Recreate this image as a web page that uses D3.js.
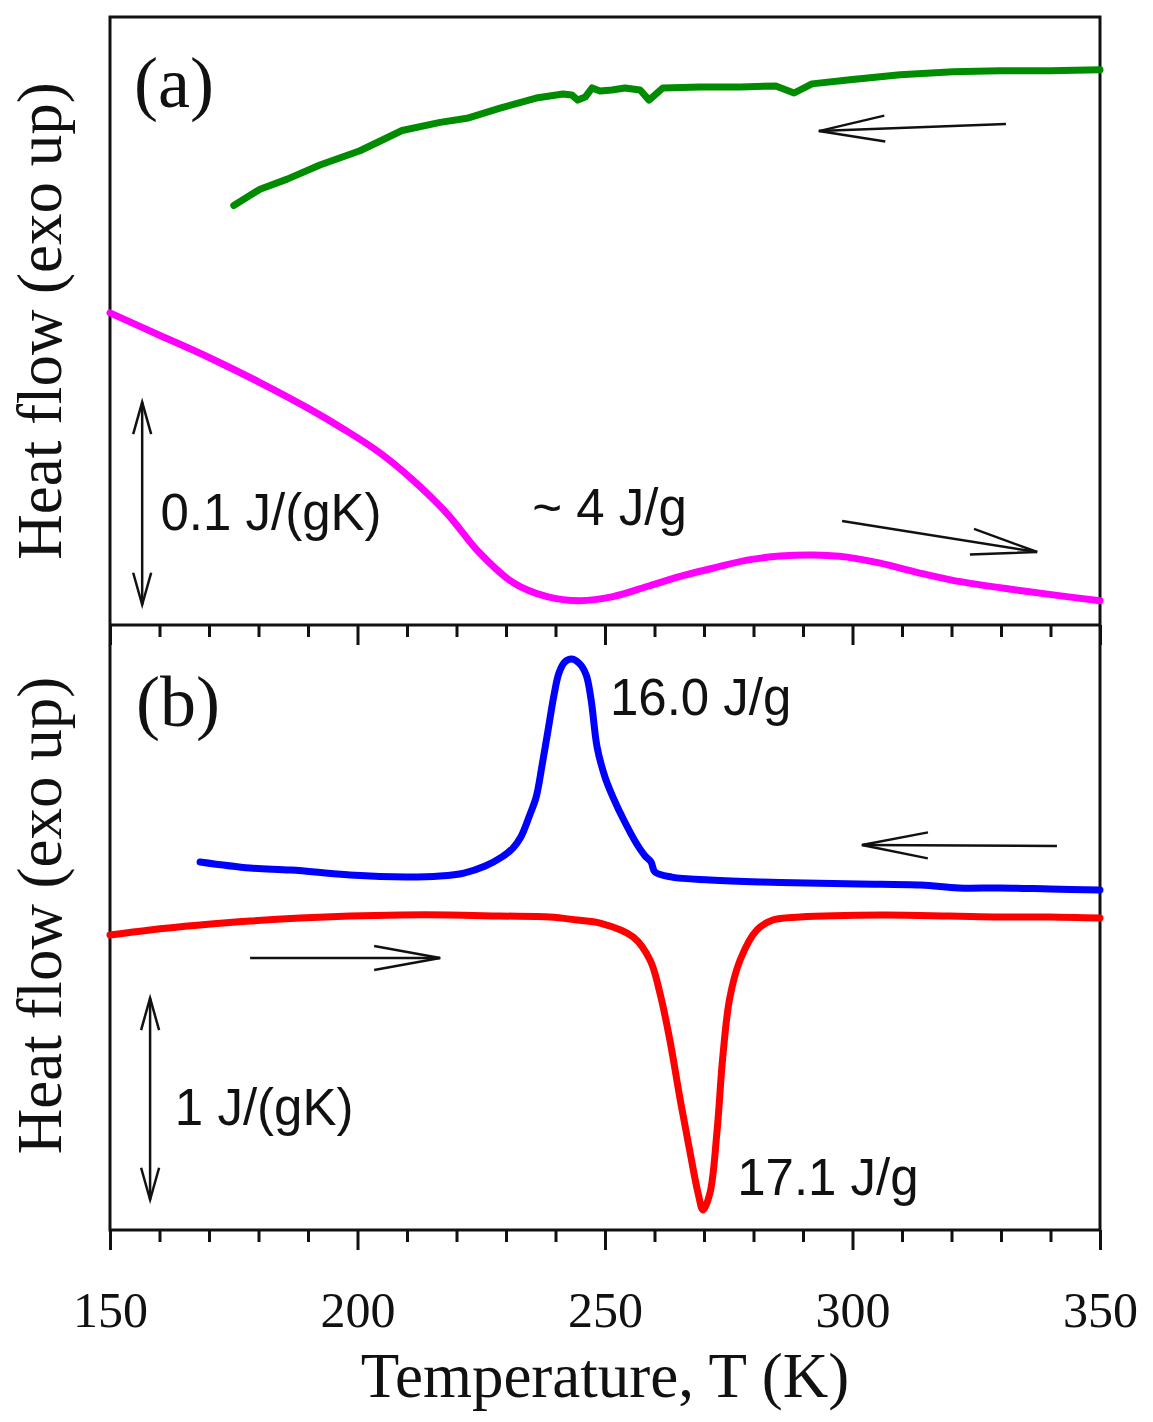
<html>
<head>
<meta charset="utf-8">
<script src="https://d3js.org/d3.v7.min.js"></script>
<style>
body { margin: 0; background: white; }
.serif { font-family: "Liberation Serif", "Times New Roman", serif; fill: #111; }
.sans { font-family: "Liberation Sans", Arial, sans-serif; fill: #111; }
</style>
</head>
<body>
<div id="chart"></div>
<script>

// temperature ticks (K)
var majorTicks = [150, 200, 250, 300, 350];
var minorTicks = [160, 170, 180, 190, 210, 220, 230, 240, 260, 270, 280, 290, 310, 320, 330, 340];

// panel (a) cooling, green  (T in K, heat flow offset in J/(gK))
var coolA_T  = [175, 180.3, 185.8, 192.4, 200.5, 209, 216.7, 222.1, 228.8, 236.1, 241.5, 243.3, 244.5, 246, 247.4, 249, 251.4, 254, 257.1, 258.9, 261.7, 269.2, 277.3, 284.5, 288.2, 291.8, 299.5, 309.6, 320.3, 329.8, 339.9, 350];
var coolA_hf = [0.207, 0.215, 0.220, 0.227, 0.234, 0.244, 0.248, 0.250, 0.255, 0.260, 0.262, 0.2615, 0.259, 0.2605, 0.265, 0.2635, 0.264, 0.265, 0.264, 0.259, 0.265, 0.2655, 0.2655, 0.266, 0.2625, 0.267, 0.269, 0.2715, 0.273, 0.2735, 0.2735, 0.274];

// panel (a) heating, magenta
var heatA_T  = [150, 160, 170, 180, 190, 197.3, 204.5, 211.2, 218.1, 224.7, 231.4, 238.3, 244.9, 251.6, 258.5, 265.2, 271.8, 278.7, 285.4, 292, 298.9, 305.6, 313, 320.3, 331, 341.7, 350];
var heatA_hf = [0.154, 0.143, 0.132, 0.120, 0.107, 0.0965, 0.085, 0.0715, 0.055, 0.0355, 0.021, 0.014, 0.012, 0.014, 0.019, 0.024, 0.028, 0.032, 0.034, 0.0345, 0.0335, 0.0305, 0.026, 0.022, 0.018, 0.0145, 0.012];

// panel (b) cooling, blue
var coolB_T  = [168.2, 178.3, 186.6, 198.5, 209.8, 216.7, 221.5, 225.8, 229.2, 231.4, 233, 234.8, 236.1, 237.3, 238.5, 239.7, 240.7, 241.9, 243.3, 244.9, 246.2, 247.2, 248.4, 250, 251.6, 254, 256.3, 258.1, 259.3, 260.1, 263.5, 271.2, 281.3, 290.6, 301.5, 313.8, 321.5, 329.8, 339.9, 350];
var coolB_hf = [1.825, 1.795, 1.785, 1.760, 1.750, 1.755, 1.770, 1.805, 1.850, 1.894, 1.949, 2.058, 2.147, 2.306, 2.479, 2.653, 2.762, 2.817, 2.831, 2.807, 2.752, 2.628, 2.395, 2.246, 2.147, 2.023, 1.919, 1.855, 1.825, 1.775, 1.750, 1.736, 1.726, 1.721, 1.716, 1.711, 1.696, 1.696, 1.691, 1.686];

// panel (b) heating, red
var heatB_T  = [150, 158.1, 168.2, 178.3, 188.4, 198.5, 208.6, 218.7, 228.8, 238.9, 244.3, 249, 255.7, 259.1, 261.1, 263.1, 265.2, 267.2, 268.8, 269.8, 271.2, 272.6, 273.8, 275.2, 277.3, 280.7, 283.9, 289.4, 306.2, 319.7, 329.8, 339.9, 350];
var heatB_hf = [1.463, 1.488, 1.512, 1.532, 1.547, 1.557, 1.562, 1.562, 1.557, 1.552, 1.537, 1.522, 1.453, 1.339, 1.175, 0.942, 0.645, 0.382, 0.183, 0.099, 0.183, 0.481, 0.860, 1.150, 1.339, 1.488, 1.537, 1.552, 1.562, 1.557, 1.552, 1.552, 1.547];

var W = 1153, H = 1422;
var left = 110, right = 1100;
var topA = 17, mid = 625, bottom = 1230;

var svg = d3.select("#chart")
  .append("svg")
    .attr("width", W)
    .attr("height", H);

var x = d3.scaleLinear()
  .domain([150, 350])
  .range([left, right]);

var yA = d3.scaleLinear()
  .domain([0, 0.3])
  .range([mid, topA]);

var yB = d3.scaleLinear()
  .domain([0, 3])
  .range([bottom, mid]);

// ticks on the divider and on the bottom axis, both pointing down
function ticks(ypos, labels) {
  var gMin = svg.append("g")
    .attr("transform", "translate(0," + ypos + ")")
    .call(d3.axisBottom(x).tickValues(minorTicks).tickSize(12).tickFormat(""));
  var gMaj = svg.append("g")
    .attr("transform", "translate(0," + ypos + ")")
    .call(d3.axisBottom(x).tickValues(majorTicks).tickSize(20).tickPadding(41)
      .tickFormat(labels ? d3.format("d") : ""));
  [gMin, gMaj].forEach(function(g) {
    g.select(".domain").remove();
    g.selectAll(".tick line").attr("stroke", "#111").attr("stroke-width", 3);
  });
  gMaj.selectAll(".tick text")
    .attr("class", "serif")
    .style("font-size", "50px")
    .attr("fill", "#111");
}
ticks(mid, false);
ticks(bottom, true);

// frame
svg.append("rect")
  .attr("x", left).attr("y", topA)
  .attr("width", right - left).attr("height", bottom - topA)
  .attr("fill", "none").attr("stroke", "#111").attr("stroke-width", 3);
svg.append("line")
  .attr("x1", left).attr("x2", right)
  .attr("y1", mid).attr("y2", mid)
  .attr("stroke", "#111").attr("stroke-width", 3);

// curves
function curve(ts, vs, yScale, color, shape) {
  var pts = ts.map(function(t, i) { return [t, vs[i]]; });
  var line = d3.line()
    .x(function(d) { return x(d[0]); })
    .y(function(d) { return yScale(d[1]); })
    .curve(shape);
  svg.append("path")
    .datum(pts)
    .attr("d", line)
    .attr("fill", "none")
    .attr("stroke", color)
    .attr("stroke-width", 7)
    .attr("stroke-linecap", "round")
    .attr("stroke-linejoin", "round");
}
curve(coolA_T, coolA_hf, yA, "#008c00", d3.curveLinear);
curve(heatA_T, heatA_hf, yA, "#ff00ff", d3.curveCatmullRom);
curve(coolB_T, coolB_hf, yB, "#0000ff", d3.curveCatmullRom);
curve(heatB_T, heatB_hf, yB, "#ff0000", d3.curveCatmullRom);

// open-headed arrows
function arrow(x1, y1, x2, y2, len, half, both) {
  var g = svg.append("g").attr("stroke", "#111").attr("stroke-width", 2.5).attr("fill", "none");
  g.append("line").attr("x1", x1).attr("y1", y1).attr("x2", x2).attr("y2", y2);
  function head(tx, ty, fx, fy) {
    var dx = tx - fx, dy = ty - fy, L = Math.sqrt(dx*dx + dy*dy);
    var ux = dx / L, uy = dy / L;
    var bx = tx - ux * len, by = ty - uy * len;
    g.append("polyline")
      .attr("points", [[bx - uy*half, by + ux*half], [tx, ty], [bx + uy*half, by - ux*half]].join(" "));
  }
  head(x2, y2, x1, y1);
  if (both) head(x1, y1, x2, y2);
}
arrow(x(331), yA(0.2472), x(293.2), yA(0.2437), 66, 13, false);
arrow(x(297.9), yA(0.0513), x(337.3), yA(0.036), 66, 13, false);
arrow(x(156.5), yA(0.01), x(156.5), yA(0.11), 32, 9, true);
arrow(x(341.3), yB(1.904), x(301.9), yB(1.909), 66, 13, false);
arrow(x(178.3), yB(1.349), x(216.7), yB(1.349), 66, 12, false);
arrow(x(158.1), yB(0.15), x(158.1), yB(1.15), 32, 9, true);

// panel letters
svg.append("text").attr("class", "serif")
  .attr("x", 134).attr("y", 107)
  .style("font-size", "72px")
  .text("(a)");
svg.append("text").attr("class", "serif")
  .attr("x", 136).attr("y", 726)
  .style("font-size", "72px")
  .text("(b)");

// annotations
function note(t, v, yScale, str) {
  svg.append("text").attr("class", "sans")
    .attr("x", x(t)).attr("y", yScale(v))
    .style("font-size", "51px")
    .text(str);
}
note(160.2, (mid - 530) / 2026.7, yA, "0.1 J/(gK)");
note(235.3, (mid - 525) / 2026.7, yA, "~ 4 J/g");
note(251, (bottom - 715) / 201.67, yB, "16.0 J/g");
note(276.7, (bottom - 1195) / 201.67, yB, "17.1 J/g");
note(163.1, (bottom - 1125) / 201.67, yB, "1 J/(gK)");

// axis titles
svg.append("text").attr("class", "serif")
  .attr("transform", "translate(61," + (topA + mid) / 2 + ") rotate(-90)")
  .attr("text-anchor", "middle")
  .style("font-size", "63px")
  .text("Heat flow (exo up)");
svg.append("text").attr("class", "serif")
  .attr("transform", "translate(61," + ((mid + bottom) / 2 - 12) + ") rotate(-90)")
  .attr("text-anchor", "middle")
  .style("font-size", "63px")
  .text("Heat flow (exo up)");
svg.append("text").attr("class", "serif")
  .attr("x", (left + right) / 2).attr("y", 1397)
  .attr("text-anchor", "middle")
  .style("font-size", "63px")
  .text("Temperature, T (K)");

</script>
</body>
</html>
